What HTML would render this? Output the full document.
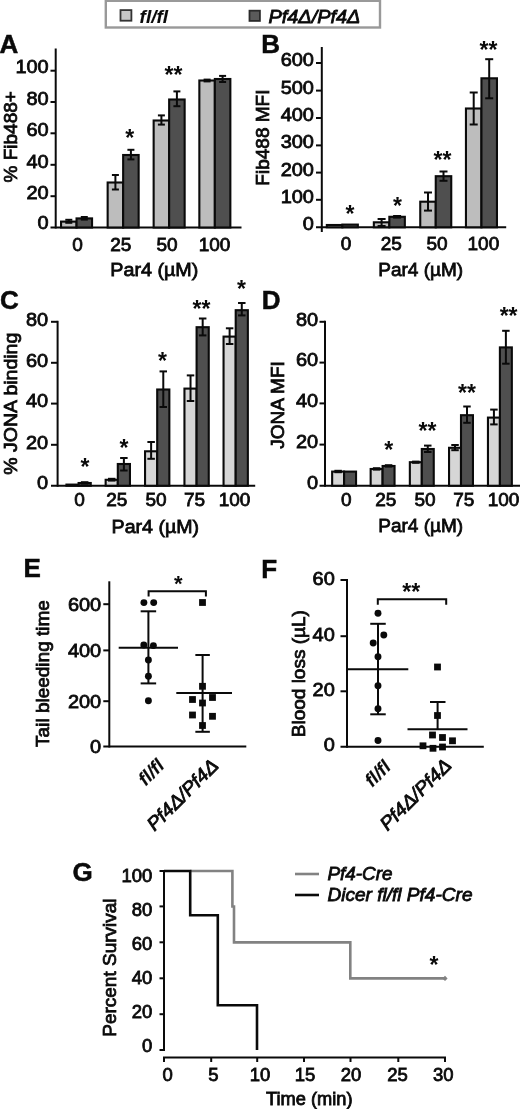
<!DOCTYPE html>
<html><head><meta charset="utf-8"><title>Figure</title>
<style>
html,body{margin:0;padding:0;background:#fff;}
body{width:520px;height:1109px;overflow:hidden;font-family:"Liberation Sans",sans-serif;}
svg{display:block;font-family:"Liberation Sans",sans-serif;filter:blur(0.3px);}
</style></head><body>
<svg width="520" height="1109" viewBox="0 0 520 1109">
<rect x="0" y="0" width="520" height="1109" fill="#ffffff"/>
<rect x="105.8" y="0.8" width="274.2" height="26.7" fill="#fff" stroke="#999" stroke-width="2.4"/>
<rect x="120.5" y="10.1" width="10.9" height="10.6" fill="#c6c6c6" stroke="#333" stroke-width="1.8"/>
<rect x="249.5" y="10.7" width="10.4" height="10.2" fill="#5a5a5a" stroke="#2a2a2a" stroke-width="1.8"/>
<text transform="translate(139.60 22.60)" font-size="19" text-anchor="start" fill="#0a0a0a" stroke="#0a0a0a" stroke-width="0.1" font-weight="bold" font-style="italic" textLength="28.5" lengthAdjust="spacingAndGlyphs">fl/fl</text>
<text transform="translate(268.40 22.80)" font-size="19" text-anchor="start" fill="#0a0a0a" stroke="#0a0a0a" stroke-width="0.8" font-style="italic" textLength="92.0" lengthAdjust="spacingAndGlyphs">Pf4&#916;/Pf4&#916;</text>
<text transform="translate(-0.60 52.70)" font-size="26" text-anchor="start" fill="#0a0a0a" stroke="#0a0a0a" stroke-width="0.5" font-weight="bold">A</text>
<line x1="55.70" y1="48.50" x2="55.70" y2="228.50" stroke="#0a0a0a" stroke-width="2.0" stroke-linecap="butt"/>
<line x1="50.50" y1="227.50" x2="241.50" y2="227.50" stroke="#0a0a0a" stroke-width="2.0" stroke-linecap="butt"/>
<line x1="50.50" y1="70.70" x2="55.70" y2="70.70" stroke="#0a0a0a" stroke-width="2.0" stroke-linecap="butt"/>
<text transform="translate(48.70 73.40) scale(1.05 1)" font-size="19" text-anchor="end" fill="#0a0a0a" stroke="#0a0a0a" stroke-width="0.8">100</text>
<line x1="50.50" y1="102.00" x2="55.70" y2="102.00" stroke="#0a0a0a" stroke-width="2.0" stroke-linecap="butt"/>
<text transform="translate(48.70 104.70) scale(1.05 1)" font-size="19" text-anchor="end" fill="#0a0a0a" stroke="#0a0a0a" stroke-width="0.8">80</text>
<line x1="50.50" y1="133.30" x2="55.70" y2="133.30" stroke="#0a0a0a" stroke-width="2.0" stroke-linecap="butt"/>
<text transform="translate(48.70 136.00) scale(1.05 1)" font-size="19" text-anchor="end" fill="#0a0a0a" stroke="#0a0a0a" stroke-width="0.8">60</text>
<line x1="50.50" y1="164.80" x2="55.70" y2="164.80" stroke="#0a0a0a" stroke-width="2.0" stroke-linecap="butt"/>
<text transform="translate(48.70 167.50) scale(1.05 1)" font-size="19" text-anchor="end" fill="#0a0a0a" stroke="#0a0a0a" stroke-width="0.8">40</text>
<line x1="50.50" y1="196.20" x2="55.70" y2="196.20" stroke="#0a0a0a" stroke-width="2.0" stroke-linecap="butt"/>
<text transform="translate(48.70 198.90) scale(1.05 1)" font-size="19" text-anchor="end" fill="#0a0a0a" stroke="#0a0a0a" stroke-width="0.8">20</text>
<text transform="translate(48.70 228.70) scale(1.05 1)" font-size="19" text-anchor="end" fill="#0a0a0a" stroke="#0a0a0a" stroke-width="0.8">0</text>
<text transform="translate(16.80 136.80) rotate(-90)" font-size="19" text-anchor="middle" fill="#0a0a0a" stroke="#0a0a0a" stroke-width="0.8">% Fib488+</text>
<rect x="61.05" y="221.60" width="15.50" height="5.90" fill="#bdbdbd" stroke="#0a0a0a" stroke-width="2.1"/>
<rect x="76.55" y="218.40" width="15.50" height="9.10" fill="#4f4f4f" stroke="#0a0a0a" stroke-width="2.1"/>
<line x1="68.80" y1="219.80" x2="68.80" y2="222.80" stroke="#0a0a0a" stroke-width="2.0" stroke-linecap="butt"/>
<line x1="65.30" y1="219.80" x2="72.30" y2="219.80" stroke="#0a0a0a" stroke-width="2.0" stroke-linecap="butt"/>
<line x1="65.30" y1="222.80" x2="72.30" y2="222.80" stroke="#0a0a0a" stroke-width="2.0" stroke-linecap="butt"/>
<line x1="84.30" y1="217.00" x2="84.30" y2="219.60" stroke="#0a0a0a" stroke-width="2.0" stroke-linecap="butt"/>
<line x1="80.80" y1="217.00" x2="87.80" y2="217.00" stroke="#0a0a0a" stroke-width="2.0" stroke-linecap="butt"/>
<line x1="80.80" y1="219.60" x2="87.80" y2="219.60" stroke="#0a0a0a" stroke-width="2.0" stroke-linecap="butt"/>
<rect x="107.65" y="182.50" width="15.50" height="45.00" fill="#bdbdbd" stroke="#0a0a0a" stroke-width="2.1"/>
<rect x="123.15" y="155.00" width="15.50" height="72.50" fill="#4f4f4f" stroke="#0a0a0a" stroke-width="2.1"/>
<line x1="115.40" y1="175.00" x2="115.40" y2="189.50" stroke="#0a0a0a" stroke-width="2.0" stroke-linecap="butt"/>
<line x1="111.90" y1="175.00" x2="118.90" y2="175.00" stroke="#0a0a0a" stroke-width="2.0" stroke-linecap="butt"/>
<line x1="111.90" y1="189.50" x2="118.90" y2="189.50" stroke="#0a0a0a" stroke-width="2.0" stroke-linecap="butt"/>
<line x1="130.90" y1="149.80" x2="130.90" y2="159.40" stroke="#0a0a0a" stroke-width="2.0" stroke-linecap="butt"/>
<line x1="127.40" y1="149.80" x2="134.40" y2="149.80" stroke="#0a0a0a" stroke-width="2.0" stroke-linecap="butt"/>
<line x1="127.40" y1="159.40" x2="134.40" y2="159.40" stroke="#0a0a0a" stroke-width="2.0" stroke-linecap="butt"/>
<rect x="153.65" y="120.50" width="15.50" height="107.00" fill="#bdbdbd" stroke="#0a0a0a" stroke-width="2.1"/>
<rect x="169.15" y="99.50" width="15.50" height="128.00" fill="#4f4f4f" stroke="#0a0a0a" stroke-width="2.1"/>
<line x1="161.40" y1="115.40" x2="161.40" y2="124.60" stroke="#0a0a0a" stroke-width="2.0" stroke-linecap="butt"/>
<line x1="157.90" y1="115.40" x2="164.90" y2="115.40" stroke="#0a0a0a" stroke-width="2.0" stroke-linecap="butt"/>
<line x1="157.90" y1="124.60" x2="164.90" y2="124.60" stroke="#0a0a0a" stroke-width="2.0" stroke-linecap="butt"/>
<line x1="176.90" y1="91.40" x2="176.90" y2="106.20" stroke="#0a0a0a" stroke-width="2.0" stroke-linecap="butt"/>
<line x1="173.40" y1="91.40" x2="180.40" y2="91.40" stroke="#0a0a0a" stroke-width="2.0" stroke-linecap="butt"/>
<line x1="173.40" y1="106.20" x2="180.40" y2="106.20" stroke="#0a0a0a" stroke-width="2.0" stroke-linecap="butt"/>
<rect x="199.35" y="80.50" width="15.50" height="147.00" fill="#bdbdbd" stroke="#0a0a0a" stroke-width="2.1"/>
<rect x="214.85" y="79.00" width="15.50" height="148.50" fill="#4f4f4f" stroke="#0a0a0a" stroke-width="2.1"/>
<line x1="207.10" y1="79.60" x2="207.10" y2="81.40" stroke="#0a0a0a" stroke-width="2.0" stroke-linecap="butt"/>
<line x1="203.60" y1="79.60" x2="210.60" y2="79.60" stroke="#0a0a0a" stroke-width="2.0" stroke-linecap="butt"/>
<line x1="203.60" y1="81.40" x2="210.60" y2="81.40" stroke="#0a0a0a" stroke-width="2.0" stroke-linecap="butt"/>
<line x1="222.60" y1="75.90" x2="222.60" y2="82.00" stroke="#0a0a0a" stroke-width="2.0" stroke-linecap="butt"/>
<line x1="219.10" y1="75.90" x2="226.10" y2="75.90" stroke="#0a0a0a" stroke-width="2.0" stroke-linecap="butt"/>
<line x1="219.10" y1="82.00" x2="226.10" y2="82.00" stroke="#0a0a0a" stroke-width="2.0" stroke-linecap="butt"/>
<text transform="translate(129.80 145.87)" font-size="23" text-anchor="middle" fill="#0a0a0a" stroke="#0a0a0a" stroke-width="0" font-weight="bold">*</text>
<text transform="translate(173.50 82.97)" font-size="23" text-anchor="middle" fill="#0a0a0a" stroke="#0a0a0a" stroke-width="0" font-weight="bold">**</text>
<text transform="translate(77.50 250.60)" font-size="19" text-anchor="middle" fill="#0a0a0a" stroke="#0a0a0a" stroke-width="0.8">0</text>
<text transform="translate(120.80 250.60)" font-size="19" text-anchor="middle" fill="#0a0a0a" stroke="#0a0a0a" stroke-width="0.8">25</text>
<text transform="translate(167.00 250.60)" font-size="19" text-anchor="middle" fill="#0a0a0a" stroke="#0a0a0a" stroke-width="0.8">50</text>
<text transform="translate(214.50 250.60)" font-size="19" text-anchor="middle" fill="#0a0a0a" stroke="#0a0a0a" stroke-width="0.8">100</text>
<text transform="translate(110.30 276.00)" font-size="19" text-anchor="start" fill="#0a0a0a" stroke="#0a0a0a" stroke-width="0.8" textLength="88.0" lengthAdjust="spacingAndGlyphs">Par4 (&#181;M)</text>
<text transform="translate(261.30 52.80)" font-size="26" text-anchor="start" fill="#0a0a0a" stroke="#0a0a0a" stroke-width="0.5" font-weight="bold">B</text>
<line x1="321.80" y1="47.00" x2="321.80" y2="232.00" stroke="#0a0a0a" stroke-width="2.0" stroke-linecap="butt"/>
<line x1="316.00" y1="227.30" x2="506.20" y2="227.30" stroke="#0a0a0a" stroke-width="2.0" stroke-linecap="butt"/>
<line x1="316.00" y1="63.00" x2="321.80" y2="63.00" stroke="#0a0a0a" stroke-width="2.0" stroke-linecap="butt"/>
<text transform="translate(313.90 66.00) scale(1.05 1)" font-size="19" text-anchor="end" fill="#0a0a0a" stroke="#0a0a0a" stroke-width="0.8">600</text>
<line x1="316.00" y1="90.60" x2="321.80" y2="90.60" stroke="#0a0a0a" stroke-width="2.0" stroke-linecap="butt"/>
<text transform="translate(313.90 93.60) scale(1.05 1)" font-size="19" text-anchor="end" fill="#0a0a0a" stroke="#0a0a0a" stroke-width="0.8">500</text>
<line x1="316.00" y1="118.00" x2="321.80" y2="118.00" stroke="#0a0a0a" stroke-width="2.0" stroke-linecap="butt"/>
<text transform="translate(313.90 121.00) scale(1.05 1)" font-size="19" text-anchor="end" fill="#0a0a0a" stroke="#0a0a0a" stroke-width="0.8">400</text>
<line x1="316.00" y1="145.40" x2="321.80" y2="145.40" stroke="#0a0a0a" stroke-width="2.0" stroke-linecap="butt"/>
<text transform="translate(313.90 148.40) scale(1.05 1)" font-size="19" text-anchor="end" fill="#0a0a0a" stroke="#0a0a0a" stroke-width="0.8">300</text>
<line x1="316.00" y1="172.60" x2="321.80" y2="172.60" stroke="#0a0a0a" stroke-width="2.0" stroke-linecap="butt"/>
<text transform="translate(313.90 175.60) scale(1.05 1)" font-size="19" text-anchor="end" fill="#0a0a0a" stroke="#0a0a0a" stroke-width="0.8">200</text>
<line x1="316.00" y1="199.80" x2="321.80" y2="199.80" stroke="#0a0a0a" stroke-width="2.0" stroke-linecap="butt"/>
<text transform="translate(313.90 202.80) scale(1.05 1)" font-size="19" text-anchor="end" fill="#0a0a0a" stroke="#0a0a0a" stroke-width="0.8">100</text>
<text transform="translate(313.90 229.50) scale(1.05 1)" font-size="19" text-anchor="end" fill="#0a0a0a" stroke="#0a0a0a" stroke-width="0.8">0</text>
<text transform="translate(269.30 137.60) rotate(-90)" font-size="19" text-anchor="middle" fill="#0a0a0a" stroke="#0a0a0a" stroke-width="0.8">Fib488 MFI</text>
<rect x="326.85" y="225.00" width="15.50" height="2.30" fill="#bdbdbd" stroke="#0a0a0a" stroke-width="2.1"/>
<rect x="342.35" y="224.60" width="15.50" height="2.70" fill="#4f4f4f" stroke="#0a0a0a" stroke-width="2.1"/>
<rect x="373.85" y="222.30" width="15.50" height="5.00" fill="#bdbdbd" stroke="#0a0a0a" stroke-width="2.1"/>
<rect x="389.35" y="216.80" width="15.50" height="10.50" fill="#4f4f4f" stroke="#0a0a0a" stroke-width="2.1"/>
<line x1="381.60" y1="219.00" x2="381.60" y2="226.00" stroke="#0a0a0a" stroke-width="2.0" stroke-linecap="butt"/>
<line x1="377.60" y1="219.00" x2="385.60" y2="219.00" stroke="#0a0a0a" stroke-width="2.0" stroke-linecap="butt"/>
<line x1="377.60" y1="226.00" x2="385.60" y2="226.00" stroke="#0a0a0a" stroke-width="2.0" stroke-linecap="butt"/>
<line x1="397.10" y1="216.00" x2="397.10" y2="217.60" stroke="#0a0a0a" stroke-width="2.0" stroke-linecap="butt"/>
<line x1="393.10" y1="216.00" x2="401.10" y2="216.00" stroke="#0a0a0a" stroke-width="2.0" stroke-linecap="butt"/>
<line x1="393.10" y1="217.60" x2="401.10" y2="217.60" stroke="#0a0a0a" stroke-width="2.0" stroke-linecap="butt"/>
<rect x="420.25" y="201.70" width="15.50" height="25.60" fill="#bdbdbd" stroke="#0a0a0a" stroke-width="2.1"/>
<rect x="435.75" y="176.20" width="15.50" height="51.10" fill="#4f4f4f" stroke="#0a0a0a" stroke-width="2.1"/>
<line x1="428.00" y1="192.50" x2="428.00" y2="210.60" stroke="#0a0a0a" stroke-width="2.0" stroke-linecap="butt"/>
<line x1="424.00" y1="192.50" x2="432.00" y2="192.50" stroke="#0a0a0a" stroke-width="2.0" stroke-linecap="butt"/>
<line x1="424.00" y1="210.60" x2="432.00" y2="210.60" stroke="#0a0a0a" stroke-width="2.0" stroke-linecap="butt"/>
<line x1="443.50" y1="171.50" x2="443.50" y2="180.80" stroke="#0a0a0a" stroke-width="2.0" stroke-linecap="butt"/>
<line x1="439.50" y1="171.50" x2="447.50" y2="171.50" stroke="#0a0a0a" stroke-width="2.0" stroke-linecap="butt"/>
<line x1="439.50" y1="180.80" x2="447.50" y2="180.80" stroke="#0a0a0a" stroke-width="2.0" stroke-linecap="butt"/>
<rect x="465.95" y="108.50" width="15.50" height="118.80" fill="#bdbdbd" stroke="#0a0a0a" stroke-width="2.1"/>
<rect x="481.45" y="78.30" width="15.50" height="149.00" fill="#4f4f4f" stroke="#0a0a0a" stroke-width="2.1"/>
<line x1="473.70" y1="92.50" x2="473.70" y2="124.50" stroke="#0a0a0a" stroke-width="2.0" stroke-linecap="butt"/>
<line x1="469.70" y1="92.50" x2="477.70" y2="92.50" stroke="#0a0a0a" stroke-width="2.0" stroke-linecap="butt"/>
<line x1="469.70" y1="124.50" x2="477.70" y2="124.50" stroke="#0a0a0a" stroke-width="2.0" stroke-linecap="butt"/>
<line x1="489.20" y1="59.20" x2="489.20" y2="98.30" stroke="#0a0a0a" stroke-width="2.0" stroke-linecap="butt"/>
<line x1="485.20" y1="59.20" x2="493.20" y2="59.20" stroke="#0a0a0a" stroke-width="2.0" stroke-linecap="butt"/>
<line x1="485.20" y1="98.30" x2="493.20" y2="98.30" stroke="#0a0a0a" stroke-width="2.0" stroke-linecap="butt"/>
<text transform="translate(350.00 221.67)" font-size="23" text-anchor="middle" fill="#0a0a0a" stroke="#0a0a0a" stroke-width="0" font-weight="bold">*</text>
<text transform="translate(397.50 213.67)" font-size="23" text-anchor="middle" fill="#0a0a0a" stroke="#0a0a0a" stroke-width="0" font-weight="bold">*</text>
<text transform="translate(442.40 168.37)" font-size="23" text-anchor="middle" fill="#0a0a0a" stroke="#0a0a0a" stroke-width="0" font-weight="bold">**</text>
<text transform="translate(488.40 58.38)" font-size="23" text-anchor="middle" fill="#0a0a0a" stroke="#0a0a0a" stroke-width="0" font-weight="bold">**</text>
<text transform="translate(346.00 250.20)" font-size="19" text-anchor="middle" fill="#0a0a0a" stroke="#0a0a0a" stroke-width="0.8">0</text>
<text transform="translate(391.20 250.20)" font-size="19" text-anchor="middle" fill="#0a0a0a" stroke="#0a0a0a" stroke-width="0.8">25</text>
<text transform="translate(437.00 250.20)" font-size="19" text-anchor="middle" fill="#0a0a0a" stroke="#0a0a0a" stroke-width="0.8">50</text>
<text transform="translate(483.40 250.20)" font-size="19" text-anchor="middle" fill="#0a0a0a" stroke="#0a0a0a" stroke-width="0.8">100</text>
<text transform="translate(378.30 275.50)" font-size="19" text-anchor="start" fill="#0a0a0a" stroke="#0a0a0a" stroke-width="0.8">Par4 (&#181;M)</text>
<text transform="translate(0.00 309.20)" font-size="26" text-anchor="start" fill="#0a0a0a" stroke="#0a0a0a" stroke-width="0.5" font-weight="bold">C</text>
<line x1="57.60" y1="320.80" x2="57.60" y2="486.75" stroke="#0a0a0a" stroke-width="2.0" stroke-linecap="butt"/>
<line x1="51.00" y1="485.75" x2="255.20" y2="485.75" stroke="#0a0a0a" stroke-width="2.0" stroke-linecap="butt"/>
<line x1="51.00" y1="321.80" x2="57.60" y2="321.80" stroke="#0a0a0a" stroke-width="2.0" stroke-linecap="butt"/>
<text transform="translate(48.20 325.60) scale(1.05 1)" font-size="19" text-anchor="end" fill="#0a0a0a" stroke="#0a0a0a" stroke-width="0.8">80</text>
<line x1="51.00" y1="362.80" x2="57.60" y2="362.80" stroke="#0a0a0a" stroke-width="2.0" stroke-linecap="butt"/>
<text transform="translate(48.20 366.60) scale(1.05 1)" font-size="19" text-anchor="end" fill="#0a0a0a" stroke="#0a0a0a" stroke-width="0.8">60</text>
<line x1="51.00" y1="403.60" x2="57.60" y2="403.60" stroke="#0a0a0a" stroke-width="2.0" stroke-linecap="butt"/>
<text transform="translate(48.20 407.40) scale(1.05 1)" font-size="19" text-anchor="end" fill="#0a0a0a" stroke="#0a0a0a" stroke-width="0.8">40</text>
<line x1="51.00" y1="444.80" x2="57.60" y2="444.80" stroke="#0a0a0a" stroke-width="2.0" stroke-linecap="butt"/>
<text transform="translate(48.20 448.60) scale(1.05 1)" font-size="19" text-anchor="end" fill="#0a0a0a" stroke="#0a0a0a" stroke-width="0.8">20</text>
<text transform="translate(48.20 488.55) scale(1.05 1)" font-size="19" text-anchor="end" fill="#0a0a0a" stroke="#0a0a0a" stroke-width="0.8">0</text>
<text transform="translate(17.00 403.70) rotate(-90)" font-size="19" text-anchor="middle" fill="#0a0a0a" stroke="#0a0a0a" stroke-width="0.8" textLength="142.0" lengthAdjust="spacingAndGlyphs">% JONA binding</text>
<rect x="66.45" y="484.60" width="12.15" height="1.15" fill="#d6d6d6" stroke="#0a0a0a" stroke-width="2.1"/>
<rect x="78.60" y="483.00" width="12.15" height="2.75" fill="#4f4f4f" stroke="#0a0a0a" stroke-width="2.1"/>
<line x1="84.68" y1="482.20" x2="84.68" y2="483.60" stroke="#0a0a0a" stroke-width="2.0" stroke-linecap="butt"/>
<line x1="80.93" y1="482.20" x2="88.43" y2="482.20" stroke="#0a0a0a" stroke-width="2.0" stroke-linecap="butt"/>
<line x1="80.93" y1="483.60" x2="88.43" y2="483.60" stroke="#0a0a0a" stroke-width="2.0" stroke-linecap="butt"/>
<rect x="105.65" y="479.80" width="12.15" height="5.95" fill="#d6d6d6" stroke="#0a0a0a" stroke-width="2.1"/>
<rect x="117.80" y="464.00" width="12.15" height="21.75" fill="#4f4f4f" stroke="#0a0a0a" stroke-width="2.1"/>
<line x1="111.72" y1="478.80" x2="111.72" y2="480.60" stroke="#0a0a0a" stroke-width="2.0" stroke-linecap="butt"/>
<line x1="107.97" y1="478.80" x2="115.47" y2="478.80" stroke="#0a0a0a" stroke-width="2.0" stroke-linecap="butt"/>
<line x1="107.97" y1="480.60" x2="115.47" y2="480.60" stroke="#0a0a0a" stroke-width="2.0" stroke-linecap="butt"/>
<line x1="123.88" y1="458.00" x2="123.88" y2="470.50" stroke="#0a0a0a" stroke-width="2.0" stroke-linecap="butt"/>
<line x1="120.12" y1="458.00" x2="127.62" y2="458.00" stroke="#0a0a0a" stroke-width="2.0" stroke-linecap="butt"/>
<line x1="120.12" y1="470.50" x2="127.62" y2="470.50" stroke="#0a0a0a" stroke-width="2.0" stroke-linecap="butt"/>
<rect x="145.05" y="451.30" width="12.15" height="34.45" fill="#d6d6d6" stroke="#0a0a0a" stroke-width="2.1"/>
<rect x="157.20" y="389.50" width="12.15" height="96.25" fill="#4f4f4f" stroke="#0a0a0a" stroke-width="2.1"/>
<line x1="151.12" y1="442.00" x2="151.12" y2="458.80" stroke="#0a0a0a" stroke-width="2.0" stroke-linecap="butt"/>
<line x1="147.38" y1="442.00" x2="154.88" y2="442.00" stroke="#0a0a0a" stroke-width="2.0" stroke-linecap="butt"/>
<line x1="147.38" y1="458.80" x2="154.88" y2="458.80" stroke="#0a0a0a" stroke-width="2.0" stroke-linecap="butt"/>
<line x1="163.28" y1="371.40" x2="163.28" y2="407.00" stroke="#0a0a0a" stroke-width="2.0" stroke-linecap="butt"/>
<line x1="159.53" y1="371.40" x2="167.03" y2="371.40" stroke="#0a0a0a" stroke-width="2.0" stroke-linecap="butt"/>
<line x1="159.53" y1="407.00" x2="167.03" y2="407.00" stroke="#0a0a0a" stroke-width="2.0" stroke-linecap="butt"/>
<rect x="184.45" y="388.60" width="12.15" height="97.15" fill="#d6d6d6" stroke="#0a0a0a" stroke-width="2.1"/>
<rect x="196.60" y="327.20" width="12.15" height="158.55" fill="#4f4f4f" stroke="#0a0a0a" stroke-width="2.1"/>
<line x1="190.53" y1="375.40" x2="190.53" y2="401.00" stroke="#0a0a0a" stroke-width="2.0" stroke-linecap="butt"/>
<line x1="186.78" y1="375.40" x2="194.28" y2="375.40" stroke="#0a0a0a" stroke-width="2.0" stroke-linecap="butt"/>
<line x1="186.78" y1="401.00" x2="194.28" y2="401.00" stroke="#0a0a0a" stroke-width="2.0" stroke-linecap="butt"/>
<line x1="202.68" y1="318.50" x2="202.68" y2="335.40" stroke="#0a0a0a" stroke-width="2.0" stroke-linecap="butt"/>
<line x1="198.93" y1="318.50" x2="206.43" y2="318.50" stroke="#0a0a0a" stroke-width="2.0" stroke-linecap="butt"/>
<line x1="198.93" y1="335.40" x2="206.43" y2="335.40" stroke="#0a0a0a" stroke-width="2.0" stroke-linecap="butt"/>
<rect x="223.55" y="336.60" width="12.15" height="149.15" fill="#d6d6d6" stroke="#0a0a0a" stroke-width="2.1"/>
<rect x="235.70" y="310.20" width="12.15" height="175.55" fill="#4f4f4f" stroke="#0a0a0a" stroke-width="2.1"/>
<line x1="229.62" y1="328.30" x2="229.62" y2="344.00" stroke="#0a0a0a" stroke-width="2.0" stroke-linecap="butt"/>
<line x1="225.88" y1="328.30" x2="233.38" y2="328.30" stroke="#0a0a0a" stroke-width="2.0" stroke-linecap="butt"/>
<line x1="225.88" y1="344.00" x2="233.38" y2="344.00" stroke="#0a0a0a" stroke-width="2.0" stroke-linecap="butt"/>
<line x1="241.78" y1="303.00" x2="241.78" y2="315.40" stroke="#0a0a0a" stroke-width="2.0" stroke-linecap="butt"/>
<line x1="238.03" y1="303.00" x2="245.53" y2="303.00" stroke="#0a0a0a" stroke-width="2.0" stroke-linecap="butt"/>
<line x1="238.03" y1="315.40" x2="245.53" y2="315.40" stroke="#0a0a0a" stroke-width="2.0" stroke-linecap="butt"/>
<text transform="translate(85.00 475.48)" font-size="23" text-anchor="middle" fill="#0a0a0a" stroke="#0a0a0a" stroke-width="0" font-weight="bold">*</text>
<text transform="translate(124.00 455.98)" font-size="23" text-anchor="middle" fill="#0a0a0a" stroke="#0a0a0a" stroke-width="0" font-weight="bold">*</text>
<text transform="translate(162.50 369.07)" font-size="23" text-anchor="middle" fill="#0a0a0a" stroke="#0a0a0a" stroke-width="0" font-weight="bold">*</text>
<text transform="translate(201.50 316.78)" font-size="23" text-anchor="middle" fill="#0a0a0a" stroke="#0a0a0a" stroke-width="0" font-weight="bold">**</text>
<text transform="translate(241.50 297.38)" font-size="23" text-anchor="middle" fill="#0a0a0a" stroke="#0a0a0a" stroke-width="0" font-weight="bold">*</text>
<text transform="translate(79.50 505.80)" font-size="19" text-anchor="middle" fill="#0a0a0a" stroke="#0a0a0a" stroke-width="0.8">0</text>
<text transform="translate(116.80 505.80)" font-size="19" text-anchor="middle" fill="#0a0a0a" stroke="#0a0a0a" stroke-width="0.8">25</text>
<text transform="translate(156.00 505.80)" font-size="19" text-anchor="middle" fill="#0a0a0a" stroke="#0a0a0a" stroke-width="0.8">50</text>
<text transform="translate(194.60 505.80)" font-size="19" text-anchor="middle" fill="#0a0a0a" stroke="#0a0a0a" stroke-width="0.8">75</text>
<text transform="translate(234.50 505.80)" font-size="19" text-anchor="middle" fill="#0a0a0a" stroke="#0a0a0a" stroke-width="0.8">100</text>
<text transform="translate(111.60 532.50)" font-size="19" text-anchor="start" fill="#0a0a0a" stroke="#0a0a0a" stroke-width="0.8" textLength="87.5" lengthAdjust="spacingAndGlyphs">Par4 (&#181;M)</text>
<text transform="translate(261.80 309.30)" font-size="26" text-anchor="start" fill="#0a0a0a" stroke="#0a0a0a" stroke-width="0.5" font-weight="bold">D</text>
<line x1="325.00" y1="320.80" x2="325.00" y2="486.75" stroke="#0a0a0a" stroke-width="2.0" stroke-linecap="butt"/>
<line x1="319.50" y1="485.75" x2="520.00" y2="485.75" stroke="#0a0a0a" stroke-width="2.0" stroke-linecap="butt"/>
<line x1="319.50" y1="321.80" x2="325.00" y2="321.80" stroke="#0a0a0a" stroke-width="2.0" stroke-linecap="butt"/>
<text transform="translate(318.20 325.60) scale(1.05 1)" font-size="19" text-anchor="end" fill="#0a0a0a" stroke="#0a0a0a" stroke-width="0.8">80</text>
<line x1="319.50" y1="362.60" x2="325.00" y2="362.60" stroke="#0a0a0a" stroke-width="2.0" stroke-linecap="butt"/>
<text transform="translate(318.20 366.40) scale(1.05 1)" font-size="19" text-anchor="end" fill="#0a0a0a" stroke="#0a0a0a" stroke-width="0.8">60</text>
<line x1="319.50" y1="403.40" x2="325.00" y2="403.40" stroke="#0a0a0a" stroke-width="2.0" stroke-linecap="butt"/>
<text transform="translate(318.20 407.20) scale(1.05 1)" font-size="19" text-anchor="end" fill="#0a0a0a" stroke="#0a0a0a" stroke-width="0.8">40</text>
<line x1="319.50" y1="444.60" x2="325.00" y2="444.60" stroke="#0a0a0a" stroke-width="2.0" stroke-linecap="butt"/>
<text transform="translate(318.20 448.40) scale(1.05 1)" font-size="19" text-anchor="end" fill="#0a0a0a" stroke="#0a0a0a" stroke-width="0.8">20</text>
<text transform="translate(318.20 488.55) scale(1.05 1)" font-size="19" text-anchor="end" fill="#0a0a0a" stroke="#0a0a0a" stroke-width="0.8">0</text>
<text transform="translate(283.80 405.00) rotate(-90)" font-size="19" text-anchor="middle" fill="#0a0a0a" stroke="#0a0a0a" stroke-width="0.8">JONA MFI</text>
<rect x="332.15" y="471.60" width="11.95" height="14.15" fill="#d6d6d6" stroke="#0a0a0a" stroke-width="2.1"/>
<rect x="344.10" y="471.60" width="11.95" height="14.15" fill="#4f4f4f" stroke="#0a0a0a" stroke-width="2.1"/>
<line x1="338.12" y1="470.80" x2="338.12" y2="472.20" stroke="#0a0a0a" stroke-width="2.0" stroke-linecap="butt"/>
<line x1="334.38" y1="470.80" x2="341.88" y2="470.80" stroke="#0a0a0a" stroke-width="2.0" stroke-linecap="butt"/>
<line x1="334.38" y1="472.20" x2="341.88" y2="472.20" stroke="#0a0a0a" stroke-width="2.0" stroke-linecap="butt"/>
<rect x="370.65" y="469.00" width="11.95" height="16.75" fill="#d6d6d6" stroke="#0a0a0a" stroke-width="2.1"/>
<rect x="382.60" y="466.00" width="11.95" height="19.75" fill="#4f4f4f" stroke="#0a0a0a" stroke-width="2.1"/>
<line x1="376.62" y1="468.20" x2="376.62" y2="469.60" stroke="#0a0a0a" stroke-width="2.0" stroke-linecap="butt"/>
<line x1="372.88" y1="468.20" x2="380.38" y2="468.20" stroke="#0a0a0a" stroke-width="2.0" stroke-linecap="butt"/>
<line x1="372.88" y1="469.60" x2="380.38" y2="469.60" stroke="#0a0a0a" stroke-width="2.0" stroke-linecap="butt"/>
<line x1="388.58" y1="465.20" x2="388.58" y2="466.60" stroke="#0a0a0a" stroke-width="2.0" stroke-linecap="butt"/>
<line x1="384.83" y1="465.20" x2="392.33" y2="465.20" stroke="#0a0a0a" stroke-width="2.0" stroke-linecap="butt"/>
<line x1="384.83" y1="466.60" x2="392.33" y2="466.60" stroke="#0a0a0a" stroke-width="2.0" stroke-linecap="butt"/>
<rect x="409.85" y="462.20" width="11.95" height="23.55" fill="#d6d6d6" stroke="#0a0a0a" stroke-width="2.1"/>
<rect x="421.80" y="449.00" width="11.95" height="36.75" fill="#4f4f4f" stroke="#0a0a0a" stroke-width="2.1"/>
<line x1="415.83" y1="461.60" x2="415.83" y2="462.80" stroke="#0a0a0a" stroke-width="2.0" stroke-linecap="butt"/>
<line x1="412.08" y1="461.60" x2="419.58" y2="461.60" stroke="#0a0a0a" stroke-width="2.0" stroke-linecap="butt"/>
<line x1="412.08" y1="462.80" x2="419.58" y2="462.80" stroke="#0a0a0a" stroke-width="2.0" stroke-linecap="butt"/>
<line x1="427.77" y1="445.60" x2="427.77" y2="452.00" stroke="#0a0a0a" stroke-width="2.0" stroke-linecap="butt"/>
<line x1="424.02" y1="445.60" x2="431.52" y2="445.60" stroke="#0a0a0a" stroke-width="2.0" stroke-linecap="butt"/>
<line x1="424.02" y1="452.00" x2="431.52" y2="452.00" stroke="#0a0a0a" stroke-width="2.0" stroke-linecap="butt"/>
<rect x="449.05" y="447.80" width="11.95" height="37.95" fill="#d6d6d6" stroke="#0a0a0a" stroke-width="2.1"/>
<rect x="461.00" y="415.20" width="11.95" height="70.55" fill="#4f4f4f" stroke="#0a0a0a" stroke-width="2.1"/>
<line x1="455.02" y1="445.00" x2="455.02" y2="450.20" stroke="#0a0a0a" stroke-width="2.0" stroke-linecap="butt"/>
<line x1="451.27" y1="445.00" x2="458.77" y2="445.00" stroke="#0a0a0a" stroke-width="2.0" stroke-linecap="butt"/>
<line x1="451.27" y1="450.20" x2="458.77" y2="450.20" stroke="#0a0a0a" stroke-width="2.0" stroke-linecap="butt"/>
<line x1="466.98" y1="406.50" x2="466.98" y2="422.80" stroke="#0a0a0a" stroke-width="2.0" stroke-linecap="butt"/>
<line x1="463.23" y1="406.50" x2="470.73" y2="406.50" stroke="#0a0a0a" stroke-width="2.0" stroke-linecap="butt"/>
<line x1="463.23" y1="422.80" x2="470.73" y2="422.80" stroke="#0a0a0a" stroke-width="2.0" stroke-linecap="butt"/>
<rect x="487.95" y="417.60" width="11.95" height="68.15" fill="#d6d6d6" stroke="#0a0a0a" stroke-width="2.1"/>
<rect x="499.90" y="347.40" width="11.95" height="138.35" fill="#4f4f4f" stroke="#0a0a0a" stroke-width="2.1"/>
<line x1="493.92" y1="409.60" x2="493.92" y2="424.40" stroke="#0a0a0a" stroke-width="2.0" stroke-linecap="butt"/>
<line x1="490.17" y1="409.60" x2="497.67" y2="409.60" stroke="#0a0a0a" stroke-width="2.0" stroke-linecap="butt"/>
<line x1="490.17" y1="424.40" x2="497.67" y2="424.40" stroke="#0a0a0a" stroke-width="2.0" stroke-linecap="butt"/>
<line x1="505.88" y1="330.80" x2="505.88" y2="363.70" stroke="#0a0a0a" stroke-width="2.0" stroke-linecap="butt"/>
<line x1="502.12" y1="330.80" x2="509.62" y2="330.80" stroke="#0a0a0a" stroke-width="2.0" stroke-linecap="butt"/>
<line x1="502.12" y1="363.70" x2="509.62" y2="363.70" stroke="#0a0a0a" stroke-width="2.0" stroke-linecap="butt"/>
<text transform="translate(388.60 458.48)" font-size="23" text-anchor="middle" fill="#0a0a0a" stroke="#0a0a0a" stroke-width="0" font-weight="bold">*</text>
<text transform="translate(427.40 439.48)" font-size="23" text-anchor="middle" fill="#0a0a0a" stroke="#0a0a0a" stroke-width="0" font-weight="bold">**</text>
<text transform="translate(467.00 400.57)" font-size="23" text-anchor="middle" fill="#0a0a0a" stroke="#0a0a0a" stroke-width="0" font-weight="bold">**</text>
<text transform="translate(508.60 323.68)" font-size="23" text-anchor="middle" fill="#0a0a0a" stroke="#0a0a0a" stroke-width="0" font-weight="bold">**</text>
<text transform="translate(346.20 505.80)" font-size="19" text-anchor="middle" fill="#0a0a0a" stroke="#0a0a0a" stroke-width="0.8">0</text>
<text transform="translate(385.70 505.80)" font-size="19" text-anchor="middle" fill="#0a0a0a" stroke="#0a0a0a" stroke-width="0.8">25</text>
<text transform="translate(425.10 505.80)" font-size="19" text-anchor="middle" fill="#0a0a0a" stroke="#0a0a0a" stroke-width="0.8">50</text>
<text transform="translate(463.80 505.80)" font-size="19" text-anchor="middle" fill="#0a0a0a" stroke="#0a0a0a" stroke-width="0.8">75</text>
<text transform="translate(503.50 505.80)" font-size="19" text-anchor="middle" fill="#0a0a0a" stroke="#0a0a0a" stroke-width="0.8">100</text>
<text transform="translate(378.30 532.00)" font-size="19" text-anchor="start" fill="#0a0a0a" stroke="#0a0a0a" stroke-width="0.8">Par4 (&#181;M)</text>
<text transform="translate(23.60 577.20)" font-size="26" text-anchor="start" fill="#0a0a0a" stroke="#0a0a0a" stroke-width="0.5" font-weight="bold">E</text>
<line x1="109.30" y1="581.30" x2="109.30" y2="747.50" stroke="#0a0a0a" stroke-width="2.0" stroke-linecap="butt"/>
<line x1="103.30" y1="746.50" x2="246.30" y2="746.50" stroke="#0a0a0a" stroke-width="2.0" stroke-linecap="butt"/>
<line x1="103.30" y1="604.20" x2="109.30" y2="604.20" stroke="#0a0a0a" stroke-width="2.0" stroke-linecap="butt"/>
<text transform="translate(101.20 610.70) scale(1.05 1)" font-size="19" text-anchor="end" fill="#0a0a0a" stroke="#0a0a0a" stroke-width="0.8">600</text>
<line x1="103.30" y1="650.40" x2="109.30" y2="650.40" stroke="#0a0a0a" stroke-width="2.0" stroke-linecap="butt"/>
<text transform="translate(101.20 656.90) scale(1.05 1)" font-size="19" text-anchor="end" fill="#0a0a0a" stroke="#0a0a0a" stroke-width="0.8">400</text>
<line x1="103.30" y1="701.20" x2="109.30" y2="701.20" stroke="#0a0a0a" stroke-width="2.0" stroke-linecap="butt"/>
<text transform="translate(101.20 707.70) scale(1.05 1)" font-size="19" text-anchor="end" fill="#0a0a0a" stroke="#0a0a0a" stroke-width="0.8">200</text>
<text transform="translate(101.20 752.90) scale(1.05 1)" font-size="19" text-anchor="end" fill="#0a0a0a" stroke="#0a0a0a" stroke-width="0.8">0</text>
<text transform="translate(49.30 673.50) rotate(-90)" font-size="19" text-anchor="middle" fill="#0a0a0a" stroke="#0a0a0a" stroke-width="0.8">Tail bleeding time</text>
<line x1="118.70" y1="647.80" x2="178.00" y2="647.80" stroke="#0a0a0a" stroke-width="2.0" stroke-linecap="butt"/>
<line x1="148.40" y1="611.30" x2="148.40" y2="683.40" stroke="#0a0a0a" stroke-width="2.0" stroke-linecap="butt"/>
<line x1="140.65" y1="611.30" x2="156.15" y2="611.30" stroke="#0a0a0a" stroke-width="2.0" stroke-linecap="butt"/>
<line x1="140.65" y1="683.40" x2="156.15" y2="683.40" stroke="#0a0a0a" stroke-width="2.0" stroke-linecap="butt"/>
<circle cx="143.90" cy="602.60" r="3.45" fill="#0a0a0a"/>
<circle cx="153.70" cy="602.60" r="3.45" fill="#0a0a0a"/>
<circle cx="143.80" cy="645.00" r="3.45" fill="#0a0a0a"/>
<circle cx="153.40" cy="645.60" r="3.45" fill="#0a0a0a"/>
<circle cx="148.40" cy="660.00" r="3.45" fill="#0a0a0a"/>
<circle cx="148.40" cy="676.20" r="3.45" fill="#0a0a0a"/>
<circle cx="148.40" cy="700.80" r="3.45" fill="#0a0a0a"/>
<line x1="176.30" y1="693.00" x2="232.00" y2="693.00" stroke="#0a0a0a" stroke-width="2.0" stroke-linecap="butt"/>
<line x1="202.60" y1="655.00" x2="202.60" y2="731.80" stroke="#0a0a0a" stroke-width="2.0" stroke-linecap="butt"/>
<line x1="195.35" y1="655.00" x2="209.85" y2="655.00" stroke="#0a0a0a" stroke-width="2.0" stroke-linecap="butt"/>
<line x1="195.35" y1="731.80" x2="209.85" y2="731.80" stroke="#0a0a0a" stroke-width="2.0" stroke-linecap="butt"/>
<rect x="199.10" y="599.10" width="6.8" height="6.8" fill="#0a0a0a"/>
<rect x="199.10" y="682.90" width="6.8" height="6.8" fill="#0a0a0a"/>
<rect x="189.10" y="696.10" width="6.8" height="6.8" fill="#0a0a0a"/>
<rect x="209.10" y="694.10" width="6.8" height="6.8" fill="#0a0a0a"/>
<rect x="199.10" y="699.60" width="6.8" height="6.8" fill="#0a0a0a"/>
<rect x="189.10" y="711.60" width="6.8" height="6.8" fill="#0a0a0a"/>
<rect x="209.10" y="712.90" width="6.8" height="6.8" fill="#0a0a0a"/>
<rect x="199.10" y="722.10" width="6.8" height="6.8" fill="#0a0a0a"/>
<path d="M148.6 596.5 V591.3 H205.9 V596.5" fill="none" stroke="#0a0a0a" stroke-width="2.0"/>
<text transform="translate(178.30 590.85)" font-size="22" text-anchor="middle" fill="#0a0a0a" stroke="#0a0a0a" stroke-width="0" font-weight="bold">*</text>
<text transform="translate(165.30 766.80) rotate(-45)" font-size="18.5" text-anchor="end" fill="#0a0a0a" stroke="#0a0a0a" stroke-width="0.2" font-weight="bold" font-style="italic">fl/fl</text>
<text transform="translate(219.60 766.80) rotate(-45)" font-size="19" text-anchor="end" fill="#0a0a0a" stroke="#0a0a0a" stroke-width="0.8" font-style="italic" textLength="92.0" lengthAdjust="spacingAndGlyphs">Pf4&#916;/Pf4&#916;</text>
<text transform="translate(261.30 577.50)" font-size="26" text-anchor="start" fill="#0a0a0a" stroke="#0a0a0a" stroke-width="0.5" font-weight="bold">F</text>
<line x1="347.00" y1="579.00" x2="347.00" y2="747.80" stroke="#0a0a0a" stroke-width="2.0" stroke-linecap="butt"/>
<line x1="340.50" y1="746.80" x2="483.80" y2="746.80" stroke="#0a0a0a" stroke-width="2.0" stroke-linecap="butt"/>
<line x1="340.50" y1="580.00" x2="347.00" y2="580.00" stroke="#0a0a0a" stroke-width="2.0" stroke-linecap="butt"/>
<text transform="translate(334.80 584.60) scale(1.05 1)" font-size="19" text-anchor="end" fill="#0a0a0a" stroke="#0a0a0a" stroke-width="0.8">60</text>
<line x1="340.50" y1="636.20" x2="347.00" y2="636.20" stroke="#0a0a0a" stroke-width="2.0" stroke-linecap="butt"/>
<text transform="translate(334.80 640.80) scale(1.05 1)" font-size="19" text-anchor="end" fill="#0a0a0a" stroke="#0a0a0a" stroke-width="0.8">40</text>
<line x1="340.50" y1="691.30" x2="347.00" y2="691.30" stroke="#0a0a0a" stroke-width="2.0" stroke-linecap="butt"/>
<text transform="translate(334.80 695.90) scale(1.05 1)" font-size="19" text-anchor="end" fill="#0a0a0a" stroke="#0a0a0a" stroke-width="0.8">20</text>
<text transform="translate(334.80 751.40) scale(1.05 1)" font-size="19" text-anchor="end" fill="#0a0a0a" stroke="#0a0a0a" stroke-width="0.8">0</text>
<text transform="translate(305.00 673.70) rotate(-90)" font-size="19" text-anchor="middle" fill="#0a0a0a" stroke="#0a0a0a" stroke-width="0.8">Blood loss (&#181;L)</text>
<line x1="347.00" y1="669.20" x2="408.30" y2="669.20" stroke="#0a0a0a" stroke-width="2.0" stroke-linecap="butt"/>
<line x1="378.00" y1="623.80" x2="378.00" y2="714.30" stroke="#0a0a0a" stroke-width="2.0" stroke-linecap="butt"/>
<line x1="370.25" y1="623.80" x2="385.75" y2="623.80" stroke="#0a0a0a" stroke-width="2.0" stroke-linecap="butt"/>
<line x1="370.25" y1="714.30" x2="385.75" y2="714.30" stroke="#0a0a0a" stroke-width="2.0" stroke-linecap="butt"/>
<circle cx="378.00" cy="613.20" r="3.45" fill="#0a0a0a"/>
<circle cx="383.80" cy="635.00" r="3.45" fill="#0a0a0a"/>
<circle cx="373.20" cy="643.00" r="3.45" fill="#0a0a0a"/>
<circle cx="378.00" cy="656.80" r="3.45" fill="#0a0a0a"/>
<circle cx="378.00" cy="685.80" r="3.45" fill="#0a0a0a"/>
<circle cx="378.00" cy="708.80" r="3.45" fill="#0a0a0a"/>
<circle cx="378.00" cy="740.50" r="3.45" fill="#0a0a0a"/>
<line x1="407.50" y1="729.20" x2="467.50" y2="729.20" stroke="#0a0a0a" stroke-width="2.0" stroke-linecap="butt"/>
<line x1="437.60" y1="702.00" x2="437.60" y2="729.20" stroke="#0a0a0a" stroke-width="2.0" stroke-linecap="butt"/>
<line x1="430.00" y1="702.00" x2="445.50" y2="702.00" stroke="#0a0a0a" stroke-width="2.0" stroke-linecap="butt"/>
<rect x="434.10" y="663.60" width="6.8" height="6.8" fill="#0a0a0a"/>
<rect x="434.10" y="712.10" width="6.8" height="6.8" fill="#0a0a0a"/>
<rect x="429.10" y="731.60" width="6.8" height="6.8" fill="#0a0a0a"/>
<rect x="439.10" y="734.10" width="6.8" height="6.8" fill="#0a0a0a"/>
<rect x="449.10" y="737.40" width="6.8" height="6.8" fill="#0a0a0a"/>
<rect x="419.60" y="742.40" width="6.8" height="6.8" fill="#0a0a0a"/>
<rect x="429.60" y="744.90" width="6.8" height="6.8" fill="#0a0a0a"/>
<rect x="439.10" y="743.60" width="6.8" height="6.8" fill="#0a0a0a"/>
<path d="M377.8 604.8 V599.3 H446.2 V604.8" fill="none" stroke="#0a0a0a" stroke-width="2.0"/>
<text transform="translate(411.20 599.58)" font-size="23" text-anchor="middle" fill="#0a0a0a" stroke="#0a0a0a" stroke-width="0" font-weight="bold">**</text>
<text transform="translate(391.80 768.20) rotate(-45)" font-size="18.5" text-anchor="end" fill="#0a0a0a" stroke="#0a0a0a" stroke-width="0.2" font-weight="bold" font-style="italic">fl/fl</text>
<text transform="translate(452.60 766.50) rotate(-45)" font-size="19" text-anchor="end" fill="#0a0a0a" stroke="#0a0a0a" stroke-width="0.8" font-style="italic" textLength="92.0" lengthAdjust="spacingAndGlyphs">Pf4&#916;/Pf4&#916;</text>
<text transform="translate(72.60 881.10)" font-size="26" text-anchor="start" fill="#0a0a0a" stroke="#0a0a0a" stroke-width="0.5" font-weight="bold">G</text>
<line x1="164.00" y1="870.00" x2="164.00" y2="1051.00" stroke="#0a0a0a" stroke-width="2.0" stroke-linecap="butt"/>
<line x1="159.50" y1="871.00" x2="164.00" y2="871.00" stroke="#0a0a0a" stroke-width="2.0" stroke-linecap="butt"/>
<text transform="translate(152.30 881.50)" font-size="18.5" text-anchor="end" fill="#0a0a0a" stroke="#0a0a0a" stroke-width="0.8">100</text>
<line x1="159.50" y1="906.40" x2="164.00" y2="906.40" stroke="#0a0a0a" stroke-width="2.0" stroke-linecap="butt"/>
<text transform="translate(152.30 915.60)" font-size="18.5" text-anchor="end" fill="#0a0a0a" stroke="#0a0a0a" stroke-width="0.8">80</text>
<line x1="159.50" y1="942.30" x2="164.00" y2="942.30" stroke="#0a0a0a" stroke-width="2.0" stroke-linecap="butt"/>
<text transform="translate(152.30 949.70)" font-size="18.5" text-anchor="end" fill="#0a0a0a" stroke="#0a0a0a" stroke-width="0.8">60</text>
<line x1="159.50" y1="978.30" x2="164.00" y2="978.30" stroke="#0a0a0a" stroke-width="2.0" stroke-linecap="butt"/>
<text transform="translate(152.30 983.80)" font-size="18.5" text-anchor="end" fill="#0a0a0a" stroke="#0a0a0a" stroke-width="0.8">40</text>
<line x1="159.50" y1="1014.20" x2="164.00" y2="1014.20" stroke="#0a0a0a" stroke-width="2.0" stroke-linecap="butt"/>
<text transform="translate(152.30 1017.90)" font-size="18.5" text-anchor="end" fill="#0a0a0a" stroke="#0a0a0a" stroke-width="0.8">20</text>
<line x1="159.50" y1="1050.00" x2="164.00" y2="1050.00" stroke="#0a0a0a" stroke-width="2.0" stroke-linecap="butt"/>
<text transform="translate(152.30 1052.00)" font-size="18.5" text-anchor="end" fill="#0a0a0a" stroke="#0a0a0a" stroke-width="0.8">0</text>
<text transform="translate(116.40 967.60) rotate(-90)" font-size="19" text-anchor="middle" fill="#0a0a0a" stroke="#0a0a0a" stroke-width="0.8">Percent Survival</text>
<line x1="163.00" y1="1057.50" x2="446.00" y2="1057.50" stroke="#0a0a0a" stroke-width="2.0" stroke-linecap="butt"/>
<line x1="164.00" y1="1057.50" x2="164.00" y2="1062.00" stroke="#0a0a0a" stroke-width="2.0" stroke-linecap="butt"/>
<line x1="211.20" y1="1057.50" x2="211.20" y2="1062.00" stroke="#0a0a0a" stroke-width="2.0" stroke-linecap="butt"/>
<line x1="257.20" y1="1057.50" x2="257.20" y2="1062.00" stroke="#0a0a0a" stroke-width="2.0" stroke-linecap="butt"/>
<line x1="304.00" y1="1057.50" x2="304.00" y2="1062.00" stroke="#0a0a0a" stroke-width="2.0" stroke-linecap="butt"/>
<line x1="350.50" y1="1057.50" x2="350.50" y2="1062.00" stroke="#0a0a0a" stroke-width="2.0" stroke-linecap="butt"/>
<line x1="398.30" y1="1057.50" x2="398.30" y2="1062.00" stroke="#0a0a0a" stroke-width="2.0" stroke-linecap="butt"/>
<line x1="445.00" y1="1057.50" x2="445.00" y2="1062.00" stroke="#0a0a0a" stroke-width="2.0" stroke-linecap="butt"/>
<text transform="translate(167.70 1081.30)" font-size="18.5" text-anchor="middle" fill="#0a0a0a" stroke="#0a0a0a" stroke-width="0.8">0</text>
<text transform="translate(213.30 1081.30)" font-size="18.5" text-anchor="middle" fill="#0a0a0a" stroke="#0a0a0a" stroke-width="0.8">5</text>
<text transform="translate(260.00 1081.30)" font-size="18.5" text-anchor="middle" fill="#0a0a0a" stroke="#0a0a0a" stroke-width="0.8">10</text>
<text transform="translate(305.00 1081.30)" font-size="18.5" text-anchor="middle" fill="#0a0a0a" stroke="#0a0a0a" stroke-width="0.8">15</text>
<text transform="translate(351.00 1081.30)" font-size="18.5" text-anchor="middle" fill="#0a0a0a" stroke="#0a0a0a" stroke-width="0.8">20</text>
<text transform="translate(397.50 1081.30)" font-size="18.5" text-anchor="middle" fill="#0a0a0a" stroke="#0a0a0a" stroke-width="0.8">25</text>
<text transform="translate(443.30 1081.30)" font-size="18.5" text-anchor="middle" fill="#0a0a0a" stroke="#0a0a0a" stroke-width="0.8">30</text>
<text transform="translate(266.00 1105.00)" font-size="18" text-anchor="start" fill="#0a0a0a" stroke="#0a0a0a" stroke-width="0.8" textLength="86.5" lengthAdjust="spacingAndGlyphs">Time (min)</text>
<path d="M190.2 871 H232.4 V906.5 H234 V942.4 H350.3 V978.4 H445" fill="none" stroke="#828282" stroke-width="2.6"/>
<path d="M445 975.8 L447.6 978.4 L445 981 L442.4 978.4 Z" fill="#828282"/>
<path d="M164 871 H190.2 V915.3 H217.8 V1005.3 H257 V1050" fill="none" stroke="#0a0a0a" stroke-width="2.6"/>
<line x1="295.00" y1="874.00" x2="319.00" y2="874.00" stroke="#828282" stroke-width="2.6" stroke-linecap="butt"/>
<line x1="295.00" y1="895.00" x2="319.00" y2="895.00" stroke="#0a0a0a" stroke-width="2.6" stroke-linecap="butt"/>
<text transform="translate(327.50 880.00)" font-size="18.5" text-anchor="start" fill="#0a0a0a" stroke="#0a0a0a" stroke-width="0.8" font-style="italic" textLength="65.0" lengthAdjust="spacingAndGlyphs">Pf4-Cre</text>
<text transform="translate(327.50 901.30)" font-size="18.5" text-anchor="start" fill="#0a0a0a" stroke="#0a0a0a" stroke-width="0.8" font-style="italic" textLength="145.0" lengthAdjust="spacingAndGlyphs">Dicer fl/fl Pf4-Cre</text>
<text transform="translate(434.00 972.98)" font-size="23" text-anchor="middle" fill="#0a0a0a" stroke="#0a0a0a" stroke-width="0" font-weight="bold">*</text>
</svg>
</body></html>
